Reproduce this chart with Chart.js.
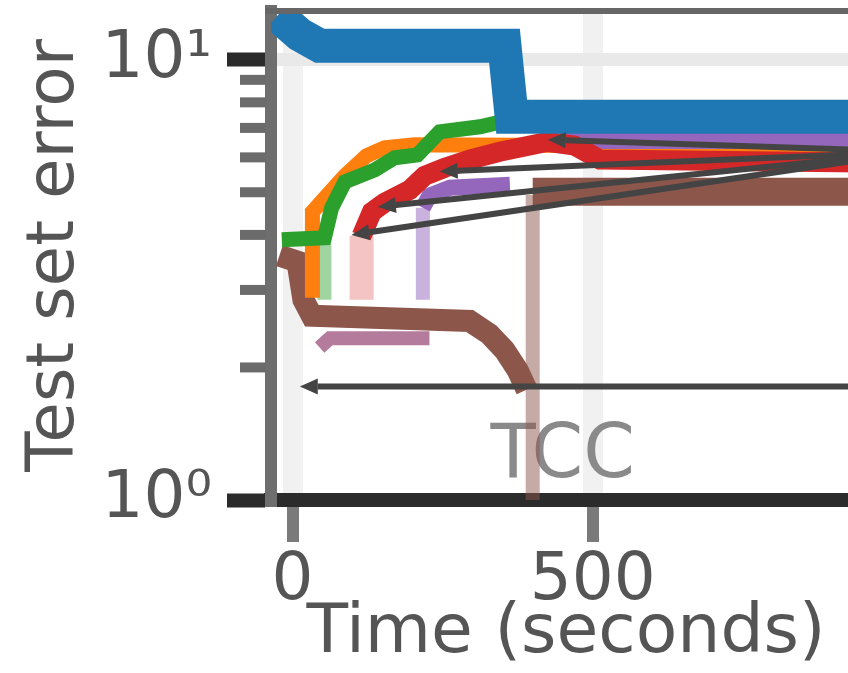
<!DOCTYPE html>
<html>
<head>
<meta charset="utf-8">
<script src="https://cdn.jsdelivr.net/npm/chart.js@4/dist/chart.umd.min.js"></script>
<style>
    html, body { margin: 0; padding: 0; background: #fff; overflow: hidden; }
    #wrap { width: 848px; height: 673px; overflow: hidden; }
</style>
</head>
<body>
<div id="wrap"><canvas id="chart" width="880" height="673"></canvas></div>
<script>
// ejes
const xTicks = [0, 500];
const yTicks = [1, 2, 3, 4, 5, 6, 7, 8, 9, 10];
const yLabels = { 1: '10⁰', 10: '10¹' };

// series (tiempo en s, error)
const blueX = [-25, 12, 45, 353, 365, 1012];
const blueY = [12.6, 11.4, 10.76, 10.76, 7.42, 7.42];

const greenX = [-18, 53, 65, 87, 137, 170, 208, 245, 312, 420, 512, 1012];
const greenY = [3.90, 3.94, 4.61, 5.28, 5.62, 5.99, 6.08, 6.86, 7.04, 7.62, 7.54, 7.54];
const greenStartX = [53, 53];
const greenStartY = [2.85, 3.80];

const orangeX = [33, 33, 57, 87, 123, 153, 203, 1012];
const orangeY = [2.88, 4.51, 4.91, 5.45, 6.05, 6.31, 6.41, 6.34];

const redX = [115, 132, 153, 195, 220, 253, 295, 345, 425, 470, 512, 1012];
const redY = [3.98, 4.51, 4.73, 5.06, 5.45, 5.68, 5.93, 6.18, 6.51, 6.38, 5.93, 5.83];
const redStartX = [115, 115];
const redStartY = [2.85, 3.98];

const purpleX = [217, 228, 262, 362, 363, 445, 1012];
const purpleY = [4.61, 4.91, 5.12, 5.20, null, 6.54, 6.54];
const purpleStartX = [217, 217];
const purpleStartY = [2.85, 4.61];

const brownX = [-22, 8, 18, 32, 295, 328, 353, 375, 390];
const brownY = [3.59, 3.48, 2.85, 2.62, 2.55, 2.38, 2.19, 1.97, 1.78];
const brownDropX = [400, 400];
const brownDropY = [0.9, 4.93];
const brownLateX = [400, 1012];
const brownLateY = [5.01, 5.01];

const pinkX = [45, 62, 228];
const pinkY = [2.22, 2.33, 2.33];

// anotaciones
const arrowFromX = 1037;
const arrowFromY = 6.18;
const arrowTipsX = [425, 245, 142, 98];
const arrowTipsY = [6.58, 5.57, 4.63, 4.00];
const refArrowFromX = 1037;
const refArrowTipX = 12;
const refArrowY = 1.81;
const noteText = 'TCC';
const noteX = 450;
const noteY = 1.25;

const FONT = "'DejaVu Sans', sans-serif";
Chart.defaults.font.family = FONT;

function serie(xs, ys, color, width) {
    return {
        data: xs.map((x, i) => ({ x: x, y: ys[i] })),
        borderColor: color,
        borderWidth: width,
        pointRadius: 0,
        tension: 0,
        fill: false,
        spanGaps: false,
        clip: 0,
        borderJoinStyle: 'miter'
    };
}

function drawArrow(ctx, x1, y1, x2, y2) {
    const ang = Math.atan2(y2 - y1, x2 - x1);
    const head = 18, half = 8;
    const bx = x2 - head * Math.cos(ang);
    const by = y2 - head * Math.sin(ang);
    ctx.beginPath();
    ctx.moveTo(x1, y1);
    ctx.lineTo(bx, by);
    ctx.stroke();
    ctx.beginPath();
    ctx.moveTo(x2, y2);
    ctx.lineTo(bx + half * Math.sin(ang), by - half * Math.cos(ang));
    ctx.lineTo(bx - half * Math.sin(ang), by + half * Math.cos(ang));
    ctx.closePath();
    ctx.fill();
}

const extras = {
    id: 'extras',
    beforeDatasetsDraw(chart) {
        const { ctx, scales: { x, y } } = chart;
        ctx.save();
        ctx.font = '74px ' + FONT;
        ctx.fillStyle = '#8a8a8a';
        ctx.textAlign = 'center';
        ctx.textBaseline = 'middle';
        ctx.fillText(noteText, x.getPixelForValue(noteX), y.getPixelForValue(noteY));
        ctx.restore();
    },
    afterDraw(chart) {
        const { ctx, chartArea, scales: { x, y } } = chart;
        ctx.save();
        // borde superior
        ctx.strokeStyle = '#666';
        ctx.lineWidth = 6;
        ctx.beginPath();
        ctx.moveTo(chartArea.left - 6, chartArea.top);
        ctx.lineTo(chartArea.right, chartArea.top);
        ctx.stroke();
        // ticks menores
        ctx.strokeStyle = '#6b6b6b';
        ctx.lineWidth = 10;
        yTicks.filter(v => !yLabels[v]).forEach(v => {
            const py = y.getPixelForValue(v);
            ctx.beginPath();
            ctx.moveTo(chartArea.left - 31, py);
            ctx.lineTo(chartArea.left - 5, py);
            ctx.stroke();
        });
        // flechas
        ctx.strokeStyle = '#444';
        ctx.fillStyle = '#444';
        ctx.lineWidth = 6;
        const fx = x.getPixelForValue(arrowFromX);
        const fy = y.getPixelForValue(arrowFromY);
        arrowTipsX.forEach((tx, i) => {
            drawArrow(ctx, fx, fy, x.getPixelForValue(tx), y.getPixelForValue(arrowTipsY[i]));
        });
        const ry = y.getPixelForValue(refArrowY);
        drawArrow(ctx, x.getPixelForValue(refArrowFromX), ry, x.getPixelForValue(refArrowTipX), ry);
        ctx.restore();
    }
};

new Chart(document.getElementById('chart'), {
    type: 'line',
    data: {
        datasets: [
            serie(blueX, blueY, '#1f77b4', 34),
            serie(redX, redY, '#d62728', 20),
            serie(purpleX, purpleY, '#9467bd', 16),
            serie(greenX, greenY, '#2ca02c', 15),
            serie(orangeX, orangeY, '#ff7f0e', 15),
            serie(brownLateX, brownLateY, '#8c564b', 28),
            serie(brownX, brownY, '#8c564b', 22),
            serie(pinkX, pinkY, '#b47b9c', 14),
            serie(brownDropX, brownDropY, 'rgba(140, 86, 75, 0.5)', 14),
            serie(redStartX, redStartY, 'rgba(214, 39, 40, 0.28)', 24),
            serie(purpleStartX, purpleStartY, 'rgba(148, 103, 189, 0.5)', 14),
            serie(greenStartX, greenStartY, 'rgba(44, 160, 44, 0.45)', 14)
        ]
    },
    options: {
        responsive: false,
        animation: false,
        devicePixelRatio: 1,
        layout: { padding: { top: 11, right: 19, left: 0, bottom: 0 } },
        plugins: { legend: { display: false }, tooltip: { enabled: false } },
        scales: {
            x: {
                type: 'linear',
                min: -36,
                max: 947,
                afterBuildTicks: s => { s.ticks = xTicks.map(v => ({ value: v })); },
                afterFit: s => {
                    s.height = 173;
                    s.paddingLeft = 0;
                    s.paddingRight = 0;
                },
                grid: { color: '#f1f1f1', lineWidth: 20, tickLength: 42, tickColor: '#7a7a7a', tickWidth: 12 },
                border: { color: '#2b2b2b', width: 14 },
                ticks: { autoSkip: false, maxRotation: 0, padding: 0, color: '#555', font: { size: 66 } },
                title: { display: true, text: 'Time (seconds)', color: '#555', font: { size: 68 }, padding: { top: 0, bottom: -2 } }
            },
            y: {
                type: 'logarithmic',
                min: 1,
                max: 12.9,
                afterBuildTicks: s => { s.ticks = yTicks.map(v => ({ value: v })); },
                afterFit: s => {
                    s.width = 271;
                    s.paddingTop = 0;
                    s.paddingBottom = 0;
                },
                grid: {
                    color: c => (c.tick && yLabels[c.tick.value]) ? '#e9e9e9' : 'rgba(0,0,0,0)',
                    lineWidth: 13,
                    tickLength: 44,
                    tickColor: c => (c.tick && yLabels[c.tick.value]) ? '#2b2b2b' : 'rgba(0,0,0,0)',
                    tickWidth: 14
                },
                border: { color: '#6e6e6e', width: 12 },
                ticks: { autoSkip: false, padding: 15, color: '#555', font: { size: 66 }, callback: v => yLabels[v] || '' },
                title: { display: true, text: 'Test set error', color: '#555', font: { size: 66 }, padding: { top: 16, bottom: 0 } }
            }
        }
    },
    plugins: [extras]
});
</script>
</body>
</html>
